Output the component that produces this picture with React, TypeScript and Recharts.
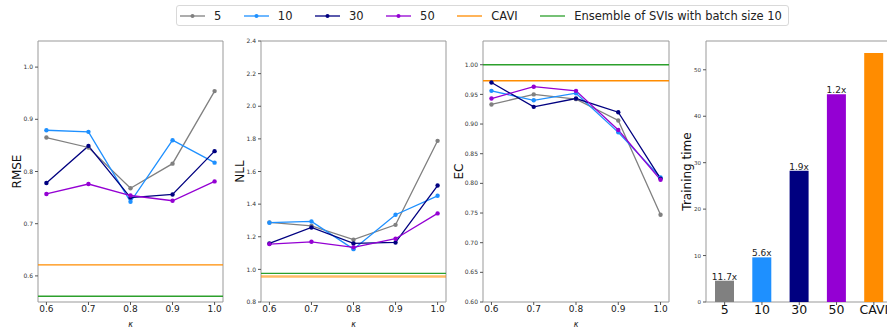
import React from "react";
import {
  LineChart,
  Line,
  BarChart,
  Bar,
  Cell,
  LabelList,
  XAxis,
  YAxis,
  ReferenceLine,
  ReferenceArea,
} from "recharts";

const FONT = "DejaVu Sans";

// kappa values on the x axis
const kappa = [0.6, 0.7, 0.8, 0.9, 1.0];
const batchSizes = ["5", "10", "30", "50"];

// RMSE per batch size
const rmse5 = [0.865, 0.846, 0.768, 0.815, 0.954];
const rmse10 = [0.879, 0.876, 0.742, 0.86, 0.817];
const rmse30 = [0.778, 0.849, 0.75, 0.756, 0.839];
const rmse50 = [0.757, 0.776, 0.754, 0.744, 0.781];

// NLL per batch size
const nll5 = [1.288, 1.267, 1.182, 1.273, 1.788];
const nll10 = [1.286, 1.294, 1.124, 1.335, 1.451];
const nll30 = [1.159, 1.257, 1.159, 1.165, 1.514];
const nll50 = [1.155, 1.169, 1.135, 1.188, 1.343];

// EC per batch size
const ec5 = [0.933, 0.95, 0.942, 0.906, 0.747];
const ec10 = [0.956, 0.94, 0.952, 0.886, 0.81];
const ec30 = [0.97, 0.929, 0.943, 0.92, 0.808];
const ec50 = [0.943, 0.963, 0.956, 0.89, 0.806];

// horizontal baselines: RMSE, NLL, EC
const caviLevels = [0.621, 0.957, 0.973];
const ensembleLevels = [0.561, 0.975, 1.0];

// training time bars
const timeLabels = ["5", "10", "30", "50", "CAVI"];
const trainingTime = [4.59, 9.61, 28.26, 44.76, 53.59];
const speedup = ["11.7x", "5.6x", "1.9x", "1.2x", ""];

// y ticks
const rmseTicks = [0.6, 0.7, 0.8, 0.9, 1.0];
const nllTicks = [0.8, 1.0, 1.2, 1.4, 1.6, 1.8, 2.0, 2.2, 2.4];
const ecTicks = [0.6, 0.65, 0.7, 0.75, 0.8, 0.85, 0.9, 0.95, 1.0];
const timeTicks = [0, 10, 20, 30, 40, 50];

const seriesColors = ["#808080", "#1e90ff", "#000080", "#9400d3"];
const caviColor = "#ff8c00";
const ensembleColor = "#2ca02c";
const barColors = [...seriesColors, caviColor];

type PanelProps = {
  left: number;
  yAxisWidth: number;
  rightMargin: number;
  label: string;
  labelOffset: number;
  domain: [number, number];
  ticks: number[];
  digits: number;
  series: number[][];
  cavi: number;
  ensemble: number;
  thickCavi?: boolean;
};

const MetricPanel = ({
  left,
  yAxisWidth,
  rightMargin,
  label,
  labelOffset,
  domain,
  ticks,
  digits,
  series,
  cavi,
  ensemble,
  thickCavi,
}: PanelProps) => {
  const rows = kappa.map((k, i) => {
    const row: Record<string, number> = { k };
    series.forEach((s, j) => {
      row["s" + j] = s[i];
    });
    return row;
  });

  return (
    <div style={{ position: "absolute", left, top: 0 }}>
      <LineChart
        width={230}
        height={329}
        data={rows}
        margin={{ top: 41, right: rightMargin, left: 0, bottom: 0 }}
        style={{ fontFamily: FONT }}
      >
        <XAxis
          dataKey="k"
          type="number"
          domain={[0.58, 1.02]}
          ticks={kappa}
          tickFormatter={(v: number) => v.toFixed(1)}
          height={27}
          axisLine={false}
          tickLine={{ stroke: "#555" }}
          tickSize={3}
          tickMargin={1}
          tick={{ fontSize: 9, fill: "#222" }}
          label={{
            value: "κ",
            position: "insideBottom",
            offset: 2,
            fontSize: 8,
            fontStyle: "italic",
            fill: "#222",
          }}
        />
        <YAxis
          type="number"
          domain={domain}
          ticks={ticks}
          tickFormatter={(v: number) => v.toFixed(digits)}
          width={yAxisWidth}
          axisLine={false}
          tickLine={{ stroke: "#555" }}
          tickSize={3}
          tick={{ fontSize: 6, fill: "#333" }}
          label={{
            value: label,
            angle: -90,
            position: "insideLeft",
            offset: labelOffset,
            fontSize: 12,
            fill: "#111",
            style: { textAnchor: "middle" },
          }}
        />
        <ReferenceArea
          x1={0.58}
          x2={1.02}
          y1={domain[0]}
          y2={domain[1]}
          fill="none"
          stroke="#999"
          strokeWidth={1}
          ifOverflow="visible"
        />
        <ReferenceLine
          y={cavi}
          stroke={caviColor}
          strokeWidth={thickCavi ? 2.5 : 1.3}
          strokeOpacity={thickCavi ? 0.6 : 1}
        />
        <ReferenceLine y={ensemble} stroke={ensembleColor} strokeWidth={1.3} />
        {series.map((_, j) => (
          <Line
            key={j}
            dataKey={"s" + j}
            stroke={seriesColors[j]}
            strokeWidth={1.3}
            dot={{ r: 2.2, fill: seriesColors[j], strokeWidth: 0 }}
            isAnimationActive={false}
          />
        ))}
      </LineChart>
    </div>
  );
};

const TimePanel = () => {
  const rows = timeLabels.map((name, i) => ({
    name,
    time: trainingTime[i],
    speedup: speedup[i],
  }));
  return (
    <div style={{ position: "absolute", left: 670, top: 0 }}>
      <BarChart
        width={230}
        height={329}
        data={rows}
        margin={{ top: 41, right: 7.5, left: 0, bottom: 0 }}
        style={{ fontFamily: FONT }}
      >
        <XAxis
          dataKey="name"
          height={27}
          interval={0}
          axisLine={false}
          tickLine={{ stroke: "#555" }}
          tickSize={3}
          tickMargin={0}
          tick={{ fontSize: 12.5, fill: "#111" }}
        />
        <YAxis
          type="number"
          domain={[0, 56.2]}
          ticks={timeTicks}
          width={36}
          axisLine={false}
          tickLine={{ stroke: "#555" }}
          tickSize={3}
          tick={{ fontSize: 5.5, fill: "#333" }}
          label={{
            value: "Training time",
            angle: -90,
            position: "insideLeft",
            offset: 17,
            fontSize: 12,
            fill: "#111",
            style: { textAnchor: "middle" },
          }}
        />
        <ReferenceArea
          y1={0}
          y2={56.2}
          fill="none"
          stroke="#999"
          strokeWidth={1}
          ifOverflow="visible"
        />
        <Bar dataKey="time" barSize={19} isAnimationActive={false}>
          {rows.map((r, i) => (
            <Cell key={r.name} fill={barColors[i]} />
          ))}
          <LabelList
            dataKey="speedup"
            position="top"
            offset={1}
            style={{ fontSize: 9, fill: "#222" }}
          />
        </Bar>
      </BarChart>
    </div>
  );
};

const LegendIcon = ({ color, marker }: { color: string; marker: boolean }) => (
  <svg width={25} height={10}>
    <line x1={0} y1={5} x2={25} y2={5} stroke={color} strokeWidth={1.3} />
    {marker && <circle cx={12.5} cy={5} r={2} fill={color} />}
  </svg>
);

const TopLegend = () => {
  const items = [
    ...batchSizes.map((b, i) => ({ name: b, color: seriesColors[i], marker: true })),
    { name: "CAVI", color: caviColor, marker: false },
    { name: "Ensemble of SVIs with batch size 10", color: ensembleColor, marker: false },
  ];
  return (
    <div
      style={{
        position: "absolute",
        left: 176,
        top: 5,
        height: 21,
        display: "flex",
        alignItems: "center",
        border: "1px solid #d9d9d9",
        borderRadius: 3,
        paddingLeft: 3,
        paddingRight: 6,
        fontFamily: FONT,
        fontSize: 11.5,
        color: "#222",
        boxSizing: "border-box",
        whiteSpace: "nowrap",
      }}
    >
      {items.map((it, i) => (
        <div key={it.name} style={{ display: "flex", alignItems: "center" }}>
          <LegendIcon color={it.color} marker={it.marker} />
          <span
            style={{
              marginLeft: 9,
              marginRight: i === items.length - 1 ? 0 : 22.5,
            }}
          >
            {it.name}
          </span>
        </div>
      ))}
    </div>
  );
};

export default function App() {
  return (
    <div
      style={{
        position: "absolute",
        left: 0,
        top: 0,
        width: 887,
        height: 329,
        overflow: "hidden",
        background: "#fff",
      }}
    >
      <TopLegend />
      <MetricPanel
        left={0}
        yAxisWidth={38}
        rightMargin={7}
        label="RMSE"
        labelOffset={17}
        domain={[0.55, 1.05]}
        ticks={rmseTicks}
        digits={1}
        series={[rmse5, rmse10, rmse30, rmse50]}
        cavi={caviLevels[0]}
        ensemble={ensembleLevels[0]}
      />
      <MetricPanel
        left={222}
        yAxisWidth={39}
        rightMargin={6}
        label="NLL"
        labelOffset={18}
        domain={[0.8, 2.4]}
        ticks={nllTicks}
        digits={1}
        series={[nll5, nll10, nll30, nll50]}
        cavi={caviLevels[1]}
        ensemble={ensembleLevels[1]}
        thickCavi
      />
      <MetricPanel
        left={445}
        yAxisWidth={38}
        rightMargin={6}
        label="EC"
        labelOffset={14}
        domain={[0.6, 1.04]}
        ticks={ecTicks}
        digits={2}
        series={[ec5, ec10, ec30, ec50]}
        cavi={caviLevels[2]}
        ensemble={ensembleLevels[2]}
      />
      <TimePanel />
    </div>
  );
}
